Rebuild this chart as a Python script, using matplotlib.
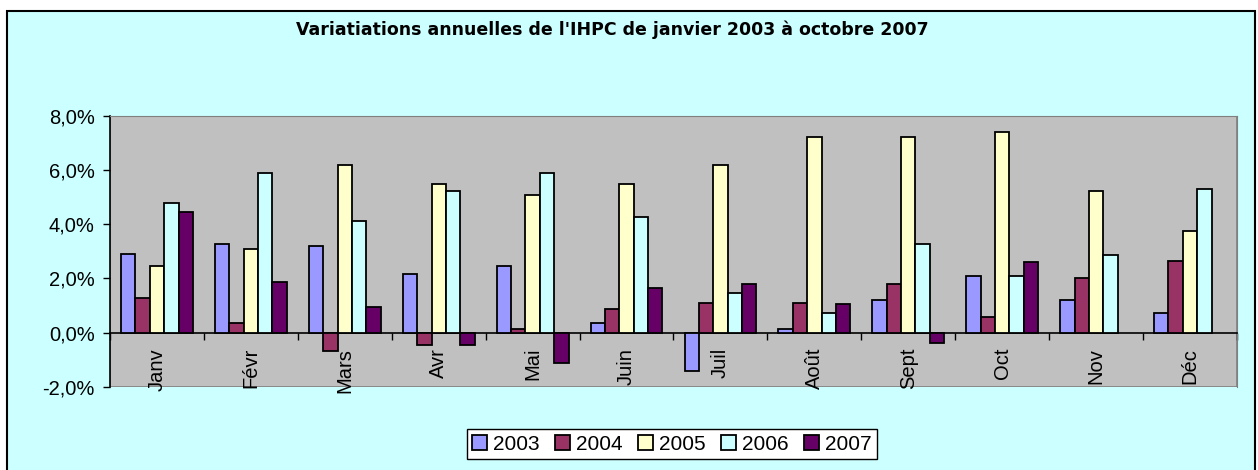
import matplotlib
matplotlib.use("Agg")
import matplotlib.pyplot as plt
from matplotlib.patches import Rectangle
from matplotlib.ticker import FuncFormatter
import numpy as np

plt.rcParams['font.family'] = ['Liberation Sans', 'DejaVu Sans']

months = ['Janv', 'Févr', 'Mars', 'Avr', 'Mai', 'Juin',
          'Juil', 'Août', 'Sept', 'Oct', 'Nov', 'Déc']
years = ['2003', '2004', '2005', '2006', '2007']

# annual IHPC variations, in %
v2003 = [2.90, 3.26, 3.18, 2.16, 2.44, 0.37, -1.41, 0.15, 1.19, 2.07, 1.19, 0.74]
v2004 = [1.27, 0.37, -0.67, -0.46, 0.15, 0.89, 1.11, 1.11, 1.78, 0.59, 2.00, 2.65]
v2005 = [2.44, 3.10, 6.19, 5.46, 5.08, 5.46, 6.19, 7.22, 7.22, 7.40, 5.23, 3.76]
v2006 = [4.76, 5.90, 4.10, 5.23, 5.90, 4.27, 1.48, 0.74, 3.26, 2.07, 2.87, 5.30]
v2007 = [4.45, 1.87, 0.96, -0.46, -1.11, 1.63, 1.78, 1.04, -0.37, 2.59, np.nan, np.nan]

series = [v2003, v2004, v2005, v2006, v2007]
colors = ['#9999FF', '#993366', '#FFFFCC', '#CCFFFF', '#660066']

fig = plt.figure(figsize=(12.58, 4.70), dpi=100)
fig.patch.set_facecolor('white')
# chart area frame
frame = Rectangle((7 / 1258, -0.01), 1248 / 1258, 1 - 11 / 470 + 0.01,
                  transform=fig.transFigure, facecolor='#CCFFFF',
                  edgecolor='black', linewidth=1.5, zorder=-10)
fig.patches.append(frame)

ax = fig.add_axes([110 / 1258, 1 - 387 / 470, 1127 / 1258, (387 - 115.5) / 470])
ax.set_facecolor('#C0C0C0')

x = np.arange(len(months))
w = 0.153
for i, (vals, c, lab) in enumerate(zip(series, colors, years)):
    ax.bar(x + (i - 2) * w, vals, width=w, color=c, edgecolor='black',
           linewidth=1.3, label=lab, zorder=3)

ax.set_xlim(-0.5, 11.5)
ax.set_ylim(-2, 8)
ax.set_yticks([-2, 0, 2, 4, 6, 8])
ax.yaxis.set_major_formatter(FuncFormatter(lambda v, p: f"{v:.1f}%".replace('.', ',')))
ax.tick_params(axis='y', labelsize=14.5, length=5, width=1, pad=6, direction='out')

# category axis at zero
ax.spines['bottom'].set_position(('data', 0))
ax.spines['bottom'].set_linewidth(1.2)
ax.spines['left'].set_linewidth(1.2)
for s in ['top', 'right']:
    ax.spines[s].set_color('#808080')
ax.add_patch(Rectangle((0, 0), 1, 1, transform=ax.transAxes, fill=False,
                       edgecolor='#808080', linewidth=1.2, zorder=1))
ax.set_xticks(x)
ax.set_xticklabels(months, rotation=90, fontsize=14.5)
ax.tick_params(axis='x', which='major', length=0, pad=11)
ax.set_xticks(np.arange(-0.5, 12, 1), minor=True)
ax.tick_params(axis='x', which='minor', length=5, width=1, direction='out')

fig.text(0.487, 1 - 30 / 470, "Variatiations annuelles de l'IHPC de janvier 2003 à octobre 2007",
         ha='center', va='center', fontsize=12.5, fontweight='bold',
         family=['DejaVu Sans'])

leg = fig.legend(loc='center', bbox_to_anchor=(672 / 1258, 1 - 444 / 470), ncol=5,
                 fontsize=15, frameon=True, fancybox=False, edgecolor='black',
                 facecolor='white', framealpha=1, handlelength=0.7, handleheight=0.7,
                 handletextpad=0.3, columnspacing=0.75, borderpad=0.25)
leg.get_frame().set_linewidth(1.0)

fig.savefig('out.png', dpi=100, facecolor=fig.get_facecolor())
